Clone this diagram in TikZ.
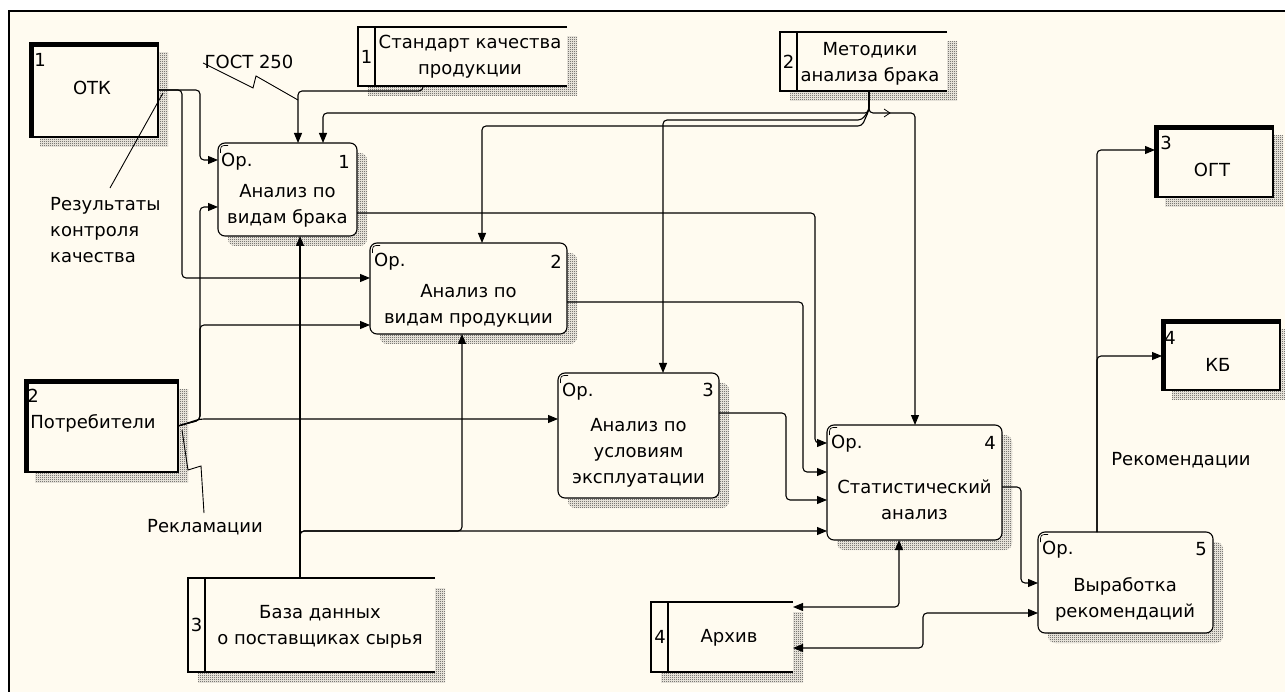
\documentclass[tikz,border=0pt]{standalone}
\usepackage{fontspec}
\setmainfont{DejaVu Sans}
\usetikzlibrary{arrows.meta,calc,patterns}
\definecolor{cream}{RGB}{255,251,240}
\pgfdeclarelayer{under}
\pgfsetlayers{under,main}
\pgfdeclarepatternformonly{finechecker}{\pgfqpoint{0pt}{0pt}}{\pgfqpoint{2pt}{2pt}}{\pgfqpoint{2pt}{2pt}}{%
  \pgfpathrectangle{\pgfqpoint{0pt}{0pt}}{\pgfqpoint{1pt}{1pt}}%
  \pgfpathrectangle{\pgfqpoint{1pt}{1pt}}{\pgfqpoint{1pt}{1pt}}%
  \pgfusepath{fill}}
\newcommand\opmark[1]{\draw[line width=0.7pt] ($(#1.north west)+(2.5,10)$) .. controls ($(#1.north west)+(2.5,2.5)$) .. ($(#1.north west)+(10,2.5)$);}
\begin{document}
\begin{tikzpicture}[x=1pt,y=-1pt,
  fnt/.style={font=\fontsize{18}{26}\selectfont, align=center, inner sep=0pt},
  act/.style={draw, line width=1.1pt, rounded corners=7pt, fill=cream, inner sep=0pt, outer sep=0pt},
  ext/.style={draw, line width=1.1pt, fill=cream, inner sep=0pt, outer sep=0pt},
  store/.style={fill=cream, inner sep=0pt, outer sep=0pt},
  hatch/.style={pattern=finechecker, pattern color=black!80},
  conn/.style={line width=1.1pt, rounded corners=4pt},
  flow/.style={conn, -{Triangle[length=10pt,width=8pt]}},
  biflow/.style={conn, {Triangle[length=10pt,width=8pt]}-{Triangle[length=10pt,width=8pt]}},
  lead/.style={line width=0.9pt},
]
\useasboundingbox (0,0) rectangle (1285,692);

% activity boxes
\node[act, minimum width=139pt, minimum height=93pt] (b1) at (287.5,189.5) {};
\node[act, minimum width=197pt, minimum height=91pt] (b2) at (468.5,288.5) {};
\node[act, minimum width=161pt, minimum height=125pt] (b3) at (638.5,435.5) {};
\node[act, minimum width=175pt, minimum height=115pt] (b4) at (914.5,482.5) {};
\node[act, minimum width=175pt, minimum height=101pt] (b5) at (1125.5,582.5) {};
\foreach \n in {b1,b2,b3,b4,b5} {\opmark{\n}}

% external entities
\node[ext, minimum width=128pt, minimum height=94pt] (otk) at (94,90) {};
\node[ext, minimum width=153pt, minimum height=92pt] (potr) at (101.5,426) {};
\node[ext, minimum width=118pt, minimum height=71pt] (ogt) at (1214,161.5) {};
\node[ext, minimum width=118pt, minimum height=70pt] (kb) at (1221,355) {};
\foreach \n in {otk,potr,ogt,kb} {
  \fill (\n.north west) rectangle ($(\n.north east)+(0,4)$);
  \fill (\n.north west) rectangle ($(\n.south west)+(4,0)$);
}

% data stores
\node[store, minimum width=209pt, minimum height=59pt] (std) at (462.5,56.5) {};
\node[store, minimum width=167pt, minimum height=59pt] (met) at (863.5,61.5) {};
\node[store, minimum width=247pt, minimum height=94pt] (db) at (311.5,625) {};
\node[store, minimum width=142pt, minimum height=70pt] (arh) at (722,637) {};
\foreach \n in {std,met,db,arh} {
  \draw[line width=1.1pt] (\n.north east) -- (\n.north west) -- (\n.south west) -- (\n.south east);
  \draw[line width=1.1pt] ($(\n.north west)+(17,0)$) -- ($(\n.south west)+(17,0)$);
}

% background, frame and shadows
\begin{pgfonlayer}{under}
  \fill[white] (0,0) rectangle (1285,692);
  \fill[cream] (8,10) rectangle (1285,692);
  \draw[line width=2pt] (9,692) -- (9,11) -- (1285,11);
  \foreach \n in {otk,potr,ogt,kb,std,met,db,arh}
    {\fill[hatch] ($(\n.north west)+(10,10)$) rectangle ($(\n.south east)+(10,10)$);}
  \foreach \n in {b1,b2,b3,b4,b5}
    {\fill[hatch, rounded corners=7pt] ($(\n.north west)+(10,10)$) rectangle ($(\n.south east)+(10,10)$);}
\end{pgfonlayer}

% texts in boxes
\node[fnt] (b1t) at (287.5,205.5) {Анализ по\\видам брака};
\node[fnt, anchor=west] (b1o) at (221,162) {Ор.};
\node[fnt, anchor=east] (b1n) at (350,162) {1};
\node[fnt] (b2t) at (468.5,305.5) {Анализ по\\видам продукции};
\node[fnt, anchor=west] (b2o) at (374,262) {Ор.};
\node[fnt, anchor=east] (b2n) at (562,262) {2};
\node[fnt] (b3t) at (638.5,452.5) {Анализ по\\условиям\\эксплуатации};
\node[fnt, anchor=west] (b3o) at (562,392) {Ор.};
\node[fnt, anchor=east] (b3n) at (714,390) {3};
\node[fnt] (b4t) at (914.5,500) {Статистический\\анализ};
\node[fnt, anchor=west] (b4o) at (831,444) {Ор.};
\node[fnt, anchor=east] (b4n) at (996,443) {4};
\node[fnt] (b5t) at (1125,599) {Выработка\\рекомендаций};
\node[fnt, anchor=west] (b5o) at (1042,550) {Ор.};
\node[fnt, anchor=east] (b5n) at (1207,549) {5};

\node[fnt] (otkt) at (92,88) {ОТК};
\node[fnt] (otkn) at (40,60) {1};
\node[fnt] (potrt) at (93,423) {Потребители};
\node[fnt] (potrn) at (33,396) {2};
\node[fnt] (ogtt) at (1212,170) {ОГТ};
\node[fnt] (ogtn) at (1166,143) {3};
\node[fnt] (kbt) at (1218,365) {КБ};
\node[fnt] (kbn) at (1170,338) {4};

\node[fnt] (stdt) at (470,56.5) {Стандарт качества\\продукции};
\node[fnt] (stdn) at (366.5,56.5) {1};
\node[fnt] (mett) at (870,63.5) {Методики\\анализа брака};
\node[fnt] (metn) at (788.5,62) {2};
\node[fnt] (dbt) at (320,626.5) {База данных\\о поставщиках сырья};
\node[fnt] (dbn) at (196.5,625) {3};
\node[fnt] (arht) at (729,638) {Архив};
\node[fnt] (arhn) at (660,637) {4};

% free labels
\node[fnt] (gost) at (249,62) {ГОСТ 250};
\node[fnt, align=left, anchor=west] (res) at (50,230) {Результаты\\контроля\\качества};
\node[fnt] (rekl) at (205,527) {Рекламации};
\node[fnt] (rekom) at (1181,460) {Рекомендации};

% leaders
\draw[lead] (110,188) -- (163,93);
\draw[lead] (203,63) -- (253,88) -- (256,76) -- (298,100);
\draw[lead] (182,430) -- (188,470) -- (201,466) -- (204,513);

% OTK outputs
\draw[flow] (otk.east) -- (200,90) -- (200,160) -- ($(b1.north west)+(0,17)$);
\draw[flow] (otk.east) -- (182,90) -- (182,278) -- ($(b2.north west)+(0,35)$);

% Standard
\draw[flow] ($(std.south west)+(65,0)$) -- (423,91) -- (298,91) -- ($(b1.north west)+(80,0)$);

% Methods
\draw[flow] ($(met.south west)+(89,0)$) -- (869,113) -- (323,113) -- ($(b1.north west)+(105,0)$);
\draw[flow] ($(met.south west)+(89,0)$) -- (869,110) -- (862,126) -- (482,126) -- ($(b2.north west)+(112,0)$);
\draw[flow] ($(met.south west)+(89,0)$) -- (869,110) -- (862,120) -- (663,120) -- ($(b3.north west)+(105,0)$);
\draw[flow] ($(met.south west)+(89,0)$) -- (869,113) -- (915,113) -- ($(b4.north west)+(88,0)$);
\draw[line width=0.8pt] (884,109) -- (890,113) -- (884,117);

% activity outputs to 4
\draw[flow] ($(b1.north east)+(0,70)$) -- (815,213) -- (815,443) -- ($(b4.north west)+(0,18)$);
\draw[flow] ($(b2.north east)+(0,59)$) -- (803,302) -- (803,472) -- ($(b4.north west)+(0,47)$);
\draw[flow] ($(b3.north east)+(0,40)$) -- (786,413) -- (786,500) -- ($(b4.north west)+(0,75)$);

% database
\draw[flow] ($(db.north west)+(112,0)$) -- ($(b1.south west)+(82,0)$);
\draw[flow] ($(db.north west)+(112,0)$) -- (300,531) -- ($(b4.north west)+(0,106)$);
\draw[flow] ($(db.north west)+(112,0)$) -- (300,531) -- (462,531) -- ($(b2.south west)+(92,0)$);

% consumers
\draw[flow] (potr.east) -- (200,420) -- (200,207) -- ($(b1.north west)+(0,64)$);
\draw[flow] (potr.east) -- (200,420) -- (200,325) -- ($(b2.north west)+(0,82)$);
\draw[flow] (potr.east) -- (200,419) -- ($(b3.north west)+(0,46)$);

% 4 -> 5, archive
\draw[flow] ($(b4.north east)+(0,62)$) -- (1021,487) -- (1021,583) -- ($(b5.north west)+(0,51)$);
\draw[biflow] ($(b4.south west)+(72,0)$) -- (899,607) -- ($(arh.north east)+(0,5)$);
\draw[biflow] ($(b5.north west)+(0,81)$) -- (923,613) -- (923,648) -- ($(arh.north east)+(0,46)$);

% 5 outputs
\draw[flow] ($(b5.north west)+(59,0)$) -- (1097,150) -- ($(ogt.north west)+(0,24)$);
\draw[flow] ($(b5.north west)+(59,0)$) -- (1097,356) -- ($(kb.north west)+(0,36)$);
\end{tikzpicture}
\end{document}
